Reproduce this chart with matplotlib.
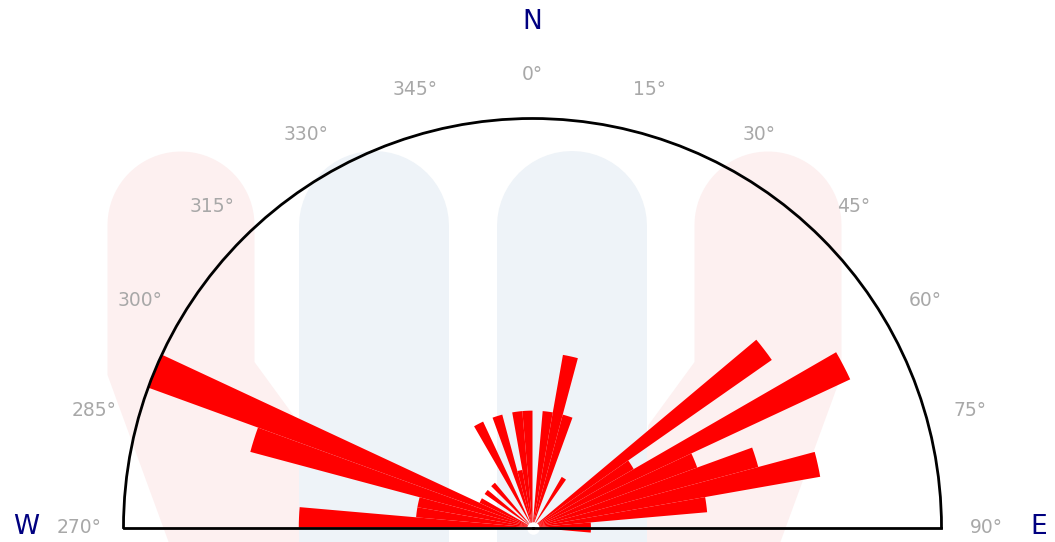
import numpy as np
import matplotlib
matplotlib.use("Agg")
import matplotlib.pyplot as plt
from matplotlib.patches import Polygon

# ---------------- data ----------------
bin_center_deg = [272.5, 277.5, 282.5, 287.5, 292.5, 297.5, 307.5, 317.5,
                  332.5, 342.5, 347.5, 352.5, 357.5, 7.5, 12.5, 17.5, 32.5,
                  52.5, 57.5, 62.5, 67.5, 72.5, 77.5, 82.5, 87.5, 92.5]
counts = [4, 2, 2, 5, 7, 1, 1, 1,
          2, 2, 1, 2, 2, 2, 3, 2, 1,
          5, 2, 6, 3, 4, 5, 3, 1, 1]
bin_width_deg = 5
tick_deg = [270, 285, 300, 315, 330, 345, 0, 15, 30, 45, 60, 75, 90]
tick_labels = [f"{d}°" for d in tick_deg]
compass_labels = ["W", "N", "E"]
compass_deg = [270, 0, 90]
r_max = 7

# ---------------- figure ----------------
W, H = 1055, 542
fig = plt.figure(figsize=(W / 100, H / 100), dpi=100)
fig.patch.set_facecolor("white")

# faint watermark in pixel coordinates
bg = fig.add_axes([0, 0, 1, 1], zorder=0)
bg.set_xlim(0, W)
bg.set_ylim(H, 0)
bg.axis("off")
pink = "#fdf0f0"
blue = "#eef3f8"
px2pt = 72 / 100

xc, hw, ytop = 181, 73.5, 225
t = np.linspace(0, np.pi, 40)
left_arm = [(xc + hw * np.cos(a), ytop - hw * np.sin(a)) for a in t]
left_arm += [(xc - hw, 375), (xc + 1.5, 580), (xc + hw + 60, 580),
             (xc + hw + 46, 425), (xc + hw, 362)]
mirror_x = 181 + 768
right_arm = [(mirror_x - x, y) for x, y in left_arm]
for pts in (left_arm, right_arm):
    bg.add_patch(Polygon(pts, closed=True, facecolor=pink, edgecolor="none"))
for xb in (374, 571.5):
    bg.plot([xb, xb], [226, 750], color=blue, lw=150 * px2pt,
            solid_capstyle="round")

# polar half-rose (square box so the half disc spans full width)
cx, cy, R = 532.5, 527.5, 409
box_cy = cy - R / 2
rect = [(cx - R) / W, (H - (box_cy + R)) / H, 2 * R / W, 2 * R / H]
ax = fig.add_axes(rect, projection="polar", zorder=1)
ax.set_facecolor("none")
ax.set_theta_zero_location("N")
ax.set_theta_direction(-1)
ax.set_thetamin(-90)
ax.set_thetamax(90)
ax.set_ylim(0, r_max)

signed = ((np.array(bin_center_deg) + 180) % 360) - 180
ax.bar(np.deg2rad(signed), counts, width=np.deg2rad(bin_width_deg), bottom=0,
       color="#ff0000", linewidth=0, clip_on=False, zorder=1)
ax.plot([0], [0], "o", color="white", ms=9, mew=0, zorder=2, clip_on=False)

ax.grid(False)
ax.set_yticks([])
tick_signed = ((np.array(tick_deg) + 180) % 360) - 180
ax.set_xticks(np.deg2rad(tick_signed))
ax.set_xticklabels(tick_labels, color="#a8a8a8", fontsize=13.5)
ax.tick_params(axis="x", pad=25, length=0)

for name in ("polar", "start", "end"):
    ax.spines[name].set_color("black")
    ax.spines[name].set_linewidth(2.0)
ax.spines["inner"].set_visible(False)

comp_signed = ((np.array(compass_deg) + 180) % 360) - 180
for lbl, d in zip(compass_labels, comp_signed):
    ax.text(np.deg2rad(d), r_max * 1.237, lbl, ha="center", va="center",
            color="#000080", fontsize=19, clip_on=False)

fig.savefig("out.png", dpi=100, facecolor="white")
